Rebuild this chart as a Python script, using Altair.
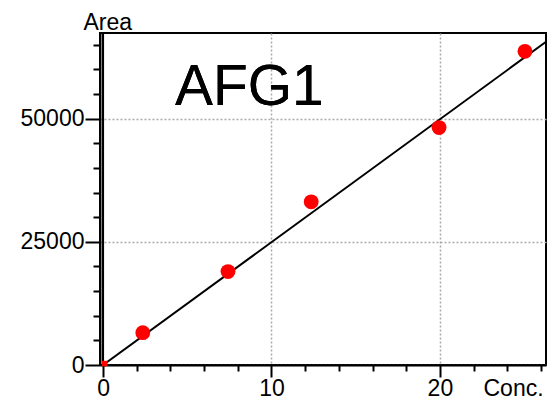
import altair as alt
import pandas as pd

# Measured points (Conc., Area)
conc = [2.36, 7.42, 12.36, 19.95, 25.05]
area = [6560, 18960, 33130, 48200, 63680]
zero_conc = [0.1]
zero_area = [300]

# Calibration line
fit_conc = [0, 26.3]
fit_area = [0, 65600]

x_ticks = list(range(0, 27, 2))
x_major = [0, 10, 20]
y_ticks = list(range(0, 65001, 5000))
y_major = [0, 25000, 50000]

FONT = "Liberation Sans"

pts = pd.DataFrame({"conc": conc, "area": area})
zpts = pd.DataFrame({"conc": zero_conc, "area": zero_area})
fit = pd.DataFrame({"conc": fit_conc, "area": fit_area})

xscale = alt.Scale(domain=[-0.18, 26.3], nice=False, zero=False)
yscale = alt.Scale(domain=[0, 67400], nice=False, zero=False)

x_test = "indexof(%s, datum.value) >= 0" % str(x_major)
x_grid_test = "indexof(%s, datum.value) > 0" % str(x_major)
y_test = "indexof(%s, datum.value) >= 0" % str(y_major)

xaxis = alt.Axis(
    values=x_ticks,
    format="d",
    labelExpr="%s ? datum.label : ''" % x_test,
    labelOverlap=False,
    tickSize={"condition": {"test": x_test, "value": 12}, "value": 6},
    tickColor="black",
    tickWidth=2,
    domainColor="black",
    domainWidth=2,
    grid=True,
    gridColor="#aaaaaa",
    gridDash=[2, 2],
    gridWidth=1.5,
    gridOpacity={"condition": {"test": x_grid_test, "value": 1}, "value": 0},
    labelFont=FONT,
    labelFontSize=23,
    labelColor="black",
    labelPadding=0,
    labelFlush=False,
    title="Conc.",
    titleFont=FONT,
    titleFontSize=23,
    titleFontWeight="normal",
    titleColor="black",
    titleAnchor="start",
    titleAlign="left",
    titleBaseline="alphabetic",
    titleX=383,
    titleY=30,
)

yaxis = alt.Axis(
    values=y_ticks,
    format="d",
    labelExpr="%s ? datum.label : ''" % y_test,
    labelOverlap=False,
    tickSize={"condition": {"test": y_test, "value": 15}, "value": 7},
    tickColor="black",
    tickWidth=2,
    domainColor="black",
    domainWidth=2,
    grid=True,
    gridColor="#aaaaaa",
    gridDash=[2, 2],
    gridWidth=1.5,
    gridOpacity={"condition": {"test": y_test, "value": 1}, "value": 0},
    labelFont=FONT,
    labelFontSize=23,
    labelColor="black",
    labelPadding=1,
    labelFlush=False,
    title="Area",
    titleFont=FONT,
    titleFontSize=23,
    titleFontWeight="normal",
    titleColor="black",
    titleAngle=0,
    titleAnchor="start",
    titleAlign="left",
    titleBaseline="alphabetic",
    titleX=-17,
    titleY=-4,
)

base_line = alt.Chart(fit).mark_line(color="black", strokeWidth=2, clip=True).encode(
    x=alt.X("conc:Q", scale=xscale, axis=xaxis),
    y=alt.Y("area:Q", scale=yscale, axis=yaxis),
)

zero_rule = alt.Chart(fit).mark_rule(color="black", strokeWidth=2).encode(
    x=alt.datum(0, axis=xaxis),
)

points = alt.Chart(pts).mark_point(filled=True, color="#ff0000", opacity=1, size=220).encode(
    x=alt.X("conc:Q", axis=xaxis), y=alt.Y("area:Q", axis=yaxis)
)

zero_point = alt.Chart(zpts).mark_point(filled=True, color="#ff0000", opacity=1, size=30, shape="square").encode(
    x=alt.X("conc:Q", axis=xaxis), y=alt.Y("area:Q", axis=yaxis)
)

label = alt.Chart(fit).mark_text(
    text="AFG1", font=FONT, fontSize=57, align="left", baseline="alphabetic", color="black"
).encode(x=alt.datum(4.27, axis=xaxis), y=alt.datum(52700, axis=yaxis))

chart = alt.layer(base_line, zero_rule, points, zero_point, label).properties(
    width=446,
    height=332,
    autosize=alt.AutoSizeParams(type="none"),
    padding={"left": 100, "top": 33, "right": 3, "bottom": 34},
    background="white",
).configure_view(stroke="black", strokeWidth=2)

chart.save("out.html", embed_options={"renderer": "svg", "actions": False})
